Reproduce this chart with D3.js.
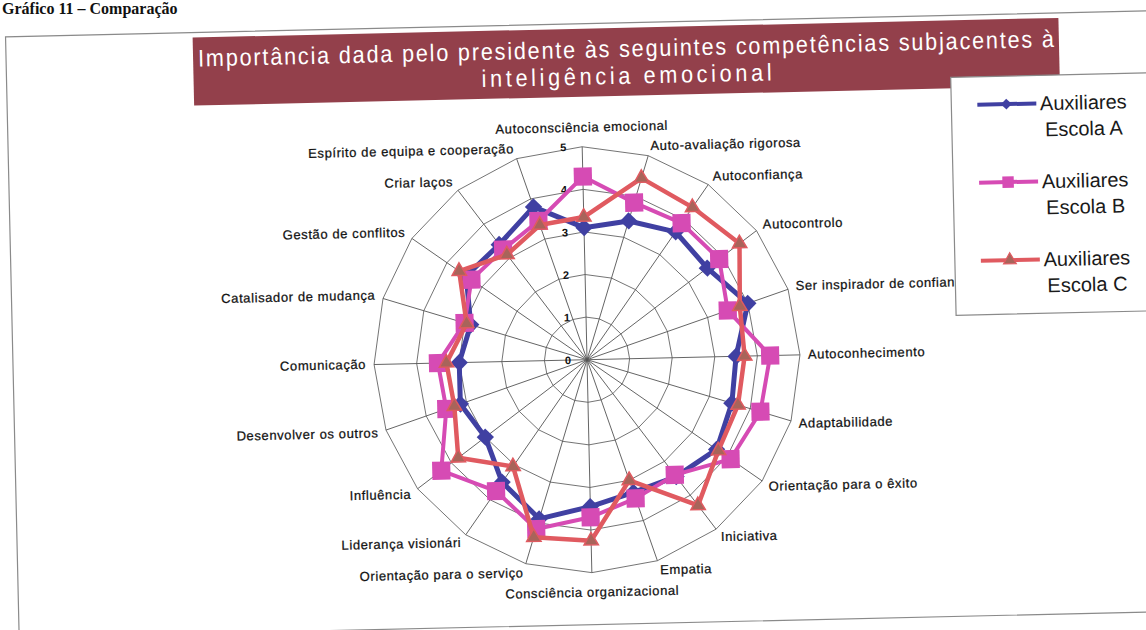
<!DOCTYPE html>
<html>
<head>
<meta charset="utf-8">
<script src="https://cdn.jsdelivr.net/npm/d3@7"></script>
<style>
  body { margin: 0; background: #fff; }
  svg { display: block; font-family: "Liberation Sans", Arial, sans-serif; }
</style>
</head>
<body>
<div id="chart"></div>
<script>

// Chart data
var categories = [
  "Autoconsciência emocional", "Auto-avaliação rigorosa", "Autoconfiança", "Autocontrolo",
  "Ser inspirador de confiança", "Autoconhecimento", "Adaptabilidade", "Orientação para o êxito",
  "Iniciativa", "Empatia", "Consciência organizacional", "Orientação para o serviço",
  "Liderança visionári", "Influência", "Desenvolver os outros", "Comunicação",
  "Catalisador de mudança", "Gestão de conflitos", "Criar laços", "Espírito de equipa e cooperação"
];
var escolaA = [3.1, 3.4, 3.65, 3.55, 4.0, 3.5, 3.55, 3.7, 3.45, 3.3, 3.45, 3.9, 3.5, 3.0, 3.15, 3.0, 2.85, 3.45, 3.4, 3.8];
var escolaB = [4.3, 3.85, 3.9, 3.9, 3.5, 4.3, 4.25, 4.1, 3.4, 3.45, 3.7, 4.15, 3.75, 4.3, 3.5, 3.5, 3.0, 3.3, 3.25, 3.45];
var escolaC = [3.35, 4.45, 4.35, 4.5, 3.8, 3.7, 3.7, 3.75, 4.3, 3.0, 4.25, 4.35, 3.05, 3.8, 3.3, 3.3, 2.95, 3.65, 3.1, 3.35];
var seriesNames = [["Auxiliares", "Escola A"], ["Auxiliares", "Escola B"], ["Auxiliares", "Escola C"]];
var ringTicks = [0, 1, 2, 3, 4, 5];
var titleLines = ["Importância dada pelo presidente às seguintes competências subjacentes à", "inteligência emocional"];

// SVG area
var svgWidth = 1146;
var svgHeight = 630;
var cx = 586, cy = 360, radius = 213;

var svg = d3.select("#chart")
  .append("svg")
  .attr("width", svgWidth)
  .attr("height", svgHeight);

// caption above the chart (page heading)
svg.append("text")
  .attr("x", 2)
  .attr("y", 14)
  .attr("font-family", "Liberation Serif, serif")
  .attr("font-weight", "bold")
  .attr("font-size", 16)
  .attr("fill", "#111")
  .text("Gráfico 11 – Comparação");

// the scanned page is slightly tilted
var page = svg.append("g")
  .attr("transform", "rotate(-1.3, 573, 315)");

// chart frame
page.append("rect")
  .attr("x", 12).attr("y", 24)
  .attr("width", 1170).attr("height", 601)
  .attr("fill", "#fff")
  .attr("stroke", "#8a8a8a")
  .attr("stroke-width", 1.2);

// title box
page.append("rect")
  .attr("x", 199).attr("y", 29)
  .attr("width", 866).attr("height", 68)
  .attr("fill", "#93404b");

var titleScale = 0.9;
page.selectAll(".title")
  .data(titleLines)
  .enter()
  .append("text")
  .attr("class", "title")
  .attr("transform", (d, i) => `translate(632, ${58 + i * 27}) scale(${titleScale}, 1)`)
  .attr("text-anchor", "middle")
  .attr("font-size", 24)
  .attr("fill", "#fff")
  .attr("textLength", (d, i) => (i == 0 ? 856 : 290) / titleScale)
  .attr("lengthAdjust", "spacing")
  .text(d => d);

// scales
var n = categories.length;
var rScale = d3.scaleLinear().domain([0, 5]).range([0, radius]);
var angle = d3.scaleLinear().domain([0, n]).range([0, 2 * Math.PI]);

var chartGroup = page.append("g")
  .attr("transform", `translate(${cx}, ${cy})`);

// grid polygons
var gridLine = d3.lineRadial()
  .angle((d, i) => angle(i))
  .radius(d => rScale(d))
  .curve(d3.curveLinearClosed);

chartGroup.selectAll(".ring")
  .data(ringTicks.slice(1))
  .enter()
  .append("path")
  .attr("class", "ring")
  .attr("d", t => gridLine(categories.map(() => t)))
  .attr("fill", "none")
  .attr("stroke", "#666")
  .attr("stroke-width", 0.9);

// spokes
chartGroup.selectAll(".spoke")
  .data(categories)
  .enter()
  .append("line")
  .attr("class", "spoke")
  .attr("x1", 0).attr("y1", 0)
  .attr("x2", (d, i) => rScale(5) * Math.sin(angle(i)))
  .attr("y2", (d, i) => -rScale(5) * Math.cos(angle(i)))
  .attr("stroke", "#555")
  .attr("stroke-width", 0.9);

// ring labels
chartGroup.selectAll(".tick")
  .data(ringTicks)
  .enter()
  .append("text")
  .attr("class", "tick")
  .attr("x", -16)
  .attr("y", t => -rScale(t) + 4)
  .attr("text-anchor", "end")
  .attr("font-size", 11)
  .attr("font-weight", "bold")
  .attr("fill", "#111")
  .text(t => t);

// category labels
chartGroup.selectAll(".cat")
  .data(categories)
  .enter()
  .append("text")
  .attr("class", "cat")
  .attr("x", (d, i) => (radius + 8) * Math.sin(angle(i)))
  .attr("y", function(d, i) {
    var c = Math.cos(angle(i));
    var y = -(radius + 8) * c + 4 - 2 * c;
    if (c > 0.99) y -= 9;
    if (c < -0.99) y += 10;
    return y;
  })
  .attr("text-anchor", function(d, i) {
    var s = Math.sin(angle(i));
    return s > 0.05 ? "start" : (s < -0.05 ? "end" : "middle");
  })
  .attr("font-size", 13)
  .attr("letter-spacing", 0.6)
  .attr("fill", "#111")
  .attr("stroke", "#111")
  .attr("stroke-width", 0.25)
  .text(d => d);

// series
var diamond = d3.symbol().type(d3.symbolSquare).size(150);
var square = d3.symbol().type(d3.symbolSquare).size(330);
var triangle = d3.symbol().type(d3.symbolTriangle).size(90);

var series = [
  { values: escolaA, color: "#4040a2", width: 5, marker: diamond, rot: 45, fill: "#4040a2", stroke: "none" },
  { values: escolaB, color: "#d64bb4", width: 4, marker: square, rot: 0, fill: "#d64bb4", stroke: "none" },
  { values: escolaC, color: "#e05a60", width: 4.5, marker: triangle, rot: 0, fill: "#a8645a", stroke: "#e05a60" }
];

var dataLine = d3.lineRadial()
  .angle((d, i) => angle(i))
  .radius(d => rScale(d))
  .curve(d3.curveLinearClosed);

series.forEach(function(s) {
  chartGroup.append("path")
    .attr("d", dataLine(s.values))
    .attr("fill", "none")
    .attr("stroke", s.color)
    .attr("stroke-width", s.width)
    .attr("stroke-linejoin", "round");

  chartGroup.selectAll(null)
    .data(s.values)
    .enter()
    .append("path")
    .attr("d", s.marker)
    .attr("transform", (d, i) =>
      `translate(${rScale(d) * Math.sin(angle(i))}, ${-rScale(d) * Math.cos(angle(i))}) rotate(${s.rot})`)
    .attr("fill", s.fill)
    .attr("stroke", s.stroke)
    .attr("stroke-width", 1.5);
});

// legend
var legend = page.append("g");
legend.append("rect")
  .attr("x", 956).attr("y", 86)
  .attr("width", 230).attr("height", 238)
  .attr("fill", "#fff")
  .attr("stroke", "#8a8a8a")
  .attr("stroke-width", 1.2);

var legendMarkers = [
  d3.symbol().type(d3.symbolSquare).size(60),
  d3.symbol().type(d3.symbolSquare).size(130),
  d3.symbol().type(d3.symbolTriangle).size(70)
];

var legendItems = legend.selectAll(".item")
  .data(series)
  .enter()
  .append("g")
  .attr("class", "item")
  .attr("transform", (d, i) => `translate(0, ${114 + i * 78})`);

legendItems.append("line")
  .attr("x1", 982).attr("x2", 1041)
  .attr("y1", 0).attr("y2", 0)
  .attr("stroke", d => d.color)
  .attr("stroke-width", 4);

legendItems.append("path")
  .attr("d", (d, i) => legendMarkers[i]())
  .attr("transform", d => `translate(1011, 0) rotate(${d.rot})`)
  .attr("fill", d => d.fill)
  .attr("stroke", d => d.stroke)
  .attr("stroke-width", 1.2);

legendItems.each(function(d, i) {
  d3.select(this).selectAll("text")
    .data(seriesNames[i])
    .enter()
    .append("text")
    .attr("x", 1088)
    .attr("y", (t, j) => 7 + j * 26)
    .attr("text-anchor", "middle")
    .attr("font-size", 20)
    .attr("fill", "#1a1a1a")
    .text(t => t);
});

</script>
</body>
</html>
